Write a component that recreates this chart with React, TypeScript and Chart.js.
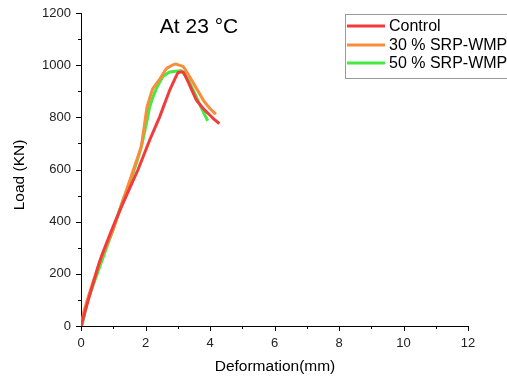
import React, { useEffect, useRef } from "react";
import { Chart, registerables } from "chart.js";
Chart.register(...registerables);

const seriesNames = ["Control", "30 % SRP-WMP", "50 % SRP-WMP"];
const seriesColors = ["#f23b3b", "#fb8c3a", "#43ea43"];

const controlX = [0, 0.25, 0.6, 1.04, 1.3, 1.77, 2.13, 2.44, 2.75, 3.01, 3.17, 3.37, 3.58, 3.79, 4.0, 4.15, 4.29];
const controlY = [0, 110, 255, 395, 470, 600, 713, 802, 904, 971, 974, 923, 866, 834, 808, 790, 776];

const orangeX = [0, 0.1, 0.26, 0.62, 0.99, 1.3, 1.6, 1.87, 2.05, 2.23, 2.44, 2.65, 2.91, 3.17, 3.37, 3.58, 3.79, 4.0, 4.18];
const orangeY = [0, 60, 125, 259, 368, 480, 590, 690, 840, 911, 946, 987, 1004, 994, 955, 911, 866, 834, 812];

const greenX = [0.03, 0.21, 0.47, 0.99, 1.3, 1.61, 1.87, 2.05, 2.13, 2.34, 2.54, 2.75, 3.12, 3.32, 3.53, 3.74, 3.93];
const greenY = [0, 100, 189, 368, 483, 585, 687, 789, 840, 911, 955, 974, 978, 943, 891, 834, 787];

const xTicks = [0, 2, 4, 6, 8, 10, 12];
const yTicks = [0, 200, 400, 600, 800, 1000, 1200];

const titleText = "At 23 °C";
const xTitle = "Deformation(mm)";
const yTitle = "Load (KN)";

function toPoints(xs: number[], ys: number[]) {
  return xs.map((x, i) => ({ x, y: ys[i] }));
}

const FONT = "'Liberation Sans', Arial, sans-serif";

const decorPlugin = {
  id: "decor",
  afterDraw(chart: any) {
    const ctx = chart.ctx;
    const xs = chart.scales.x;
    const ys = chart.scales.y;
    const area = chart.chartArea;
    ctx.save();
    ctx.strokeStyle = "#000";
    ctx.lineWidth = 1;
    for (let v = 0; v <= 12; v += 1) {
      const px = Math.round(xs.getPixelForValue(v)) + 0.5;
      const len = v % 2 === 0 ? 5 : 3;
      ctx.beginPath();
      ctx.moveTo(px, area.bottom);
      ctx.lineTo(px, area.bottom + len);
      ctx.stroke();
    }
    for (let v = 0; v <= 1200; v += 100) {
      const py = Math.round(ys.getPixelForValue(v)) + 0.5;
      const len = v % 200 === 0 ? 5 : 3;
      ctx.beginPath();
      ctx.moveTo(area.left, py);
      ctx.lineTo(area.left - len, py);
      ctx.stroke();
    }
    // axis titles
    ctx.fillStyle = "#000";
    ctx.font = "15.5px " + FONT;
    ctx.textAlign = "center";
    ctx.textBaseline = "middle";
    ctx.fillText(xTitle, 275, 367);
    ctx.save();
    ctx.translate(20, 175);
    ctx.rotate(-Math.PI / 2);
    ctx.fillText(yTitle, 0, 0);
    ctx.restore();
    // title
    ctx.font = "21px " + FONT;
    ctx.textAlign = "center";
    ctx.textBaseline = "alphabetic";
    ctx.fillText(titleText, 199, 33);
    // legend
    ctx.strokeStyle = "#9a9a9a";
    ctx.lineWidth = 1;
    ctx.strokeRect(345.5, 14.5, 170, 64);
    const rows = [26, 45, 63];
    ctx.font = "16px " + FONT;
    ctx.textAlign = "left";
    ctx.textBaseline = "middle";
    for (let i = 0; i < 3; i++) {
      ctx.strokeStyle = seriesColors[i];
      ctx.lineWidth = 3;
      ctx.beginPath();
      ctx.moveTo(347, rows[i]);
      ctx.lineTo(385, rows[i]);
      ctx.stroke();
      ctx.fillStyle = "#000";
      ctx.fillText(seriesNames[i], 389, rows[i] + 1);
    }
    ctx.restore();
  },
};

export default function App() {
  const ref = useRef<HTMLCanvasElement>(null);
  useEffect(() => {
    document.body.style.margin = "0";
    const canvas = ref.current!;
    const data = [toPoints(controlX, controlY), toPoints(orangeX, orangeY), toPoints(greenX, greenY)];
    const chart = new Chart(canvas, {
      type: "line",
      data: {
        datasets: data.map((d, i) => ({
          label: seriesNames[i],
          data: d,
          borderColor: seriesColors[i],
          backgroundColor: seriesColors[i],
          borderWidth: 3,
          pointRadius: 0,
          tension: 0.1,
          fill: false,
        })),
      },
      options: {
        responsive: false,
        animation: false,
        layout: { padding: { top: 13, right: 39, left: 0, bottom: 0 } },
        plugins: { legend: { display: false }, tooltip: { enabled: false }, title: { display: false } },
        scales: {
          x: {
            type: "linear",
            min: 0,
            max: 12,
            afterBuildTicks: (s: any) => { s.ticks = xTicks.map((v) => ({ value: v })); },
            afterFit: (s: any) => { s.height = 55; },
            grid: { display: false },
            border: { display: true, color: "#000", width: 1 },
            ticks: { color: "#222", font: { size: 13, family: FONT }, padding: 2, maxRotation: 0, callback: (v: any) => String(v) },
          },
          y: {
            type: "linear",
            min: 0,
            max: 1200,
            afterBuildTicks: (s: any) => { s.ticks = yTicks.map((v) => ({ value: v })); },
            afterFit: (s: any) => { s.width = 81; },
            grid: { display: false },
            border: { display: true, color: "#000", width: 1 },
            ticks: { color: "#222", font: { size: 13, family: FONT }, padding: 2, callback: (v: any) => String(v) },
          },
        },
      },
      plugins: [decorPlugin],
    });
    return () => chart.destroy();
  }, []);
  return <canvas ref={ref} width={507} height={381} style={{ display: "block" }} />;
}
